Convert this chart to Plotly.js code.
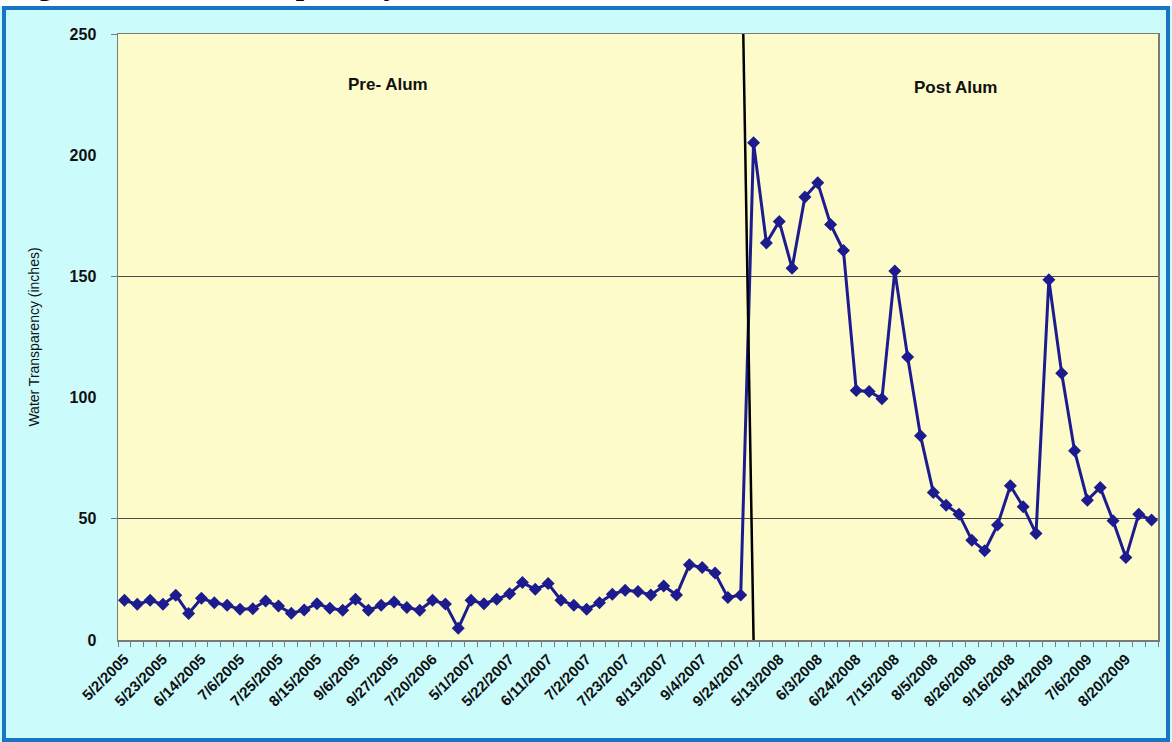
<!DOCTYPE html>
<html>
<head>
<meta charset="utf-8">
<script src="https://cdn.plot.ly/plotly-3.0.1.min.js"></script>
<style>
  html, body { margin: 0; padding: 0; background: #ffffff; }
  #chart { width: 1172px; height: 742px; }
</style>
</head>
<body>
<div id="chart"></div>
<script>
// Tick labels shown on the x axis (every third sampling date)
const tickLabels = [
  "5/2/2005", "5/23/2005", "6/14/2005", "7/6/2005", "7/25/2005", "8/15/2005",
  "9/6/2005", "9/27/2005", "7/20/2006", "5/1/2007", "5/22/2007", "6/11/2007",
  "7/2/2007", "7/23/2007", "8/13/2007", "9/4/2007", "9/24/2007", "5/13/2008",
  "6/3/2008", "6/24/2008", "7/15/2008", "8/5/2008", "8/26/2008", "9/16/2008",
  "5/14/2009", "7/6/2009", "8/20/2009"
];
const labelEvery = 3;

// Water transparency (inches), one value per sampling date, in order
const transparency = [
  16.4, 14.7, 16.4, 14.7, 18.5, 10.9, 17.2, 15.4, 14.3, 12.7,
  12.9, 16.1, 14.0, 11.0, 12.4, 15.0, 13.1, 12.3, 16.8, 12.3,
  14.3, 15.7, 13.4, 12.3, 16.4, 14.8, 4.8, 16.4, 15.0, 16.8,
  19.1, 23.7, 20.9, 23.3, 16.4, 14.3, 12.7, 15.4, 18.9, 20.5,
  20.0, 18.6, 22.3, 18.6, 31.0, 29.9, 27.6, 17.5, 18.6, 205.1,
  163.8, 172.7, 153.4, 182.8, 188.6, 171.4, 160.7, 102.9, 102.5, 99.5,
  152.2, 116.8, 84.3, 60.9, 55.6, 51.9, 41.2, 36.8, 47.4, 63.6,
  55.0, 43.9, 148.6, 110.0, 78.1, 57.7, 62.9, 49.2, 34.0, 51.9,
  49.5
];

// Treatment divider (category position at top and bottom of the plot)
const dividerTop = 48.2;
const dividerBottom = 49.0;

const xIdx = transparency.map((_, i) => i);
const tickVals = tickLabels.map((_, i) => i * labelEvery);

// plot-area geometry in pixels (for frame placement)
const W = 1172, H = 742;
const M = { l: 118, r: 14, t: 34, b: 102 };
const pw = W - M.l - M.r, ph = H - M.t - M.b;
const px2x = p => (p - M.l) / pw;
const py2y = p => 1 - (p - M.t) / ph;

const trace = {
  x: xIdx,
  y: transparency,
  type: 'scatter',
  mode: 'lines+markers',
  line: { color: '#1c1c8e', width: 3 },
  marker: { symbol: 'diamond', size: 10, color: '#1c1c8e' },
  hoverinfo: 'y',
  showlegend: false
};

const layout = {
  width: W, height: H,
  margin: M,
  paper_bgcolor: '#cbfbfb',
  plot_bgcolor: '#fdfbca',
  font: { family: '"Liberation Sans", Arial, sans-serif', color: '#111111' },
  xaxis: {
    range: [-0.5, transparency.length - 0.5],
    tickmode: 'array',
    tickvals: tickVals,
    ticktext: tickLabels,
    tickangle: -45,
    ticks: '',
    ticklabelstandoff: 3,
    tickfont: { size: 15, family: '"Liberation Sans", Arial, sans-serif', weight: 'bold', color: '#111111' },
    showgrid: false,
    zeroline: false,
    showline: true, mirror: true, linecolor: '#7a7a7a', linewidth: 1.5,
    minor: { tickmode: 'linear', tick0: 0.5, dtick: 1, ticks: 'outside', ticklen: 5, tickcolor: '#7a7a7a', tickwidth: 1, showgrid: false },
    fixedrange: true
  },
  yaxis: {
    range: [0, 250],
    tickmode: 'array',
    tickvals: [0, 50, 100, 150, 200, 250],
    ticks: '',
    ticklabelstandoff: 17,
    tickfont: { size: 16, family: '"Liberation Sans", Arial, sans-serif', weight: 'bold', color: '#111111' },
    showgrid: false,
    zeroline: false,
    showline: true, mirror: true, linecolor: '#7a7a7a', linewidth: 1.5,
    minor: { tickmode: 'linear', tick0: 50, dtick: 100, ticks: 'outside', ticklen: 6, tickcolor: '#7a7a7a', showgrid: true, gridcolor: '#4a4a4a', gridwidth: 1.2 },
    title: { text: 'Water Transparency (inches)', font: { size: 14, color: '#111111' }, standoff: 26 },
    fixedrange: true
  },
  shapes: [
    // white strip above the frame
    { type: 'rect', xref: 'paper', yref: 'paper', layer: 'below',
      x0: px2x(0), x1: px2x(W), y0: py2y(6), y1: py2y(0),
      line: { width: 0 }, fillcolor: '#ffffff' },
    // blue frame
    { type: 'rect', xref: 'paper', yref: 'paper', layer: 'below',
      x0: px2x(4), x1: px2x(1168), y0: py2y(740), y1: py2y(8),
      line: { color: '#1a74c6', width: 4 }, fillcolor: 'rgba(0,0,0,0)' },
    { type: 'line', xref: 'x', yref: 'y', layer: 'above',
      x0: dividerTop, y0: 250, x1: dividerBottom, y1: 0,
      line: { color: '#000000', width: 2.5 } }
  ],
  annotations: [
    { text: 'Pre- Alum', xref: 'x', yref: 'y', x: 20.5, y: 229, showarrow: false,
      font: { size: 17, weight: 'bold', color: '#111111' } },
    { text: 'Post Alum', xref: 'x', yref: 'y', x: 64.7, y: 228, showarrow: false,
      font: { size: 17, weight: 'bold', color: '#111111' } },
    { text: 'Figure 3: Water Transparency', xref: 'paper', yref: 'paper',
      x: px2x(9), y: py2y(4), yshift: 1, xanchor: 'left', yanchor: 'bottom', showarrow: false,
      font: { size: 30, family: '"Liberation Serif", "Times New Roman", serif', weight: 'bold', color: '#000000' } }
  ]
};

Plotly.newPlot('chart', [trace], layout, { displayModeBar: false, staticPlot: true });
</script>
</body>
</html>
